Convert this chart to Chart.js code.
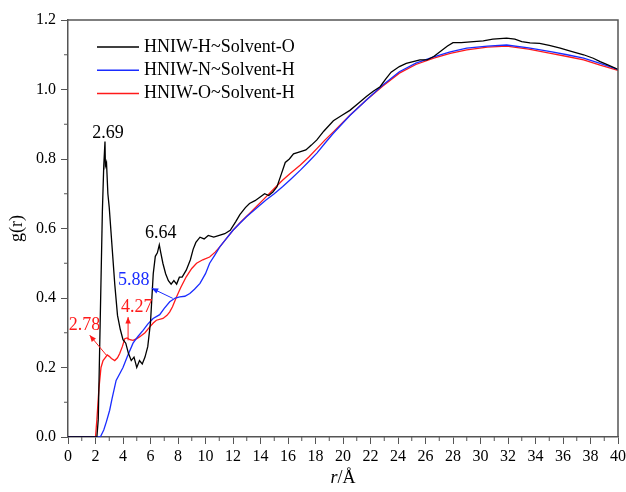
<!DOCTYPE html>
<html>
<head>
<meta charset="utf-8">
<script src="https://cdn.jsdelivr.net/npm/chart.js@4/dist/chart.umd.min.js"></script>
<style>
  body { margin: 0; background: #fff; }
  #wrap { width: 626px; height: 492px; }
</style>
</head>
<body>
<div id="wrap"><canvas id="rdfChart" width="626" height="492"></canvas></div>
<script>
// g(r) curves
const seriesNames = ['HNIW-H~Solvent-O', 'HNIW-N~Solvent-H', 'HNIW-O~Solvent-H'];
const seriesColors = ['#000000', '#1a2cff', '#ff1a1a'];

const rH_O = [0, 2.1, 2.2, 2.35, 2.5, 2.6, 2.69, 2.72, 2.8, 2.9, 3.0, 3.2, 3.4, 3.6, 3.8, 4.0, 4.2, 4.4, 4.6, 4.8, 5.0, 5.2, 5.4, 5.6, 5.8, 6.0, 6.1, 6.2, 6.35, 6.5, 6.64, 6.75, 6.9, 7.1, 7.3, 7.5, 7.7, 7.9, 8.1, 8.3, 8.6, 8.9, 9.1, 9.3, 9.6, 9.9, 10.2, 10.6, 11.0, 11.4, 11.8, 12.2, 12.5, 12.9, 13.2, 13.6, 13.95, 14.3, 14.6, 14.9, 15.2, 15.5, 15.8, 16.1, 16.4, 16.8, 17.3, 17.7, 18.1, 18.6, 19.3, 19.9, 20.5, 21.1, 21.7, 22.2, 22.7, 23.1, 23.5, 24.1, 24.6, 25.1, 25.6, 26.1, 26.6, 27.1, 27.6, 28.0, 28.6, 29.5, 30.2, 30.9, 31.9, 32.5, 33.0, 33.6, 34.3, 35.0, 35.8, 36.6, 37.5, 38.2, 38.7, 39.3, 40];
const gH_O = [0, 0, 0.05, 0.35, 0.65, 0.78, 0.85, 0.78, 0.79, 0.70, 0.66, 0.55, 0.44, 0.35, 0.31, 0.28, 0.27, 0.24, 0.22, 0.23, 0.20, 0.22, 0.21, 0.23, 0.26, 0.33, 0.40, 0.47, 0.52, 0.53, 0.553, 0.53, 0.50, 0.47, 0.45, 0.44, 0.45, 0.44, 0.46, 0.46, 0.48, 0.51, 0.54, 0.56, 0.575, 0.57, 0.58, 0.575, 0.58, 0.585, 0.595, 0.62, 0.64, 0.66, 0.672, 0.68, 0.69, 0.70, 0.695, 0.705, 0.72, 0.755, 0.79, 0.80, 0.815, 0.82, 0.826, 0.84, 0.855, 0.88, 0.91, 0.925, 0.94, 0.96, 0.98, 0.995, 1.008, 1.03, 1.05, 1.066, 1.075, 1.08, 1.085, 1.085, 1.095, 1.11, 1.125, 1.135, 1.135, 1.138, 1.14, 1.145, 1.148, 1.145, 1.138, 1.134, 1.133, 1.127, 1.119, 1.11, 1.10, 1.09, 1.08, 1.07, 1.058];

const rN_H = [0, 2.35, 2.6, 2.8, 3.03, 3.2, 3.5, 3.8, 4.0, 4.3, 4.73, 5.1, 5.46, 5.8, 6.19, 6.67, 7.0, 7.4, 7.8, 8.13, 8.5, 8.86, 9.2, 9.6, 10.0, 10.3, 10.7, 11.04, 11.5, 12, 12.5, 12.98, 13.7, 14.4, 15.0, 15.6, 16.2, 16.9, 17.5, 18.1, 18.7, 19.3, 20.5, 21.7, 22.9, 24.1, 25.3, 26.6, 27.8, 29.0, 30.5, 31.9, 33.5, 35.1, 36.3, 37.5, 38.7, 40];
const gN_H = [0, 0, 0.02, 0.045, 0.077, 0.11, 0.163, 0.185, 0.2, 0.23, 0.27, 0.29, 0.307, 0.325, 0.341, 0.352, 0.37, 0.389, 0.40, 0.403, 0.405, 0.413, 0.425, 0.442, 0.47, 0.50, 0.525, 0.547, 0.57, 0.595, 0.615, 0.634, 0.658, 0.682, 0.70, 0.72, 0.742, 0.768, 0.792, 0.817, 0.846, 0.874, 0.925, 0.97, 1.013, 1.051, 1.076, 1.094, 1.108, 1.119, 1.125, 1.128, 1.12, 1.109, 1.10, 1.09, 1.075, 1.058];

const rO_H = [0, 2.0, 2.1, 2.25, 2.4, 2.55, 2.7, 2.85, 3.0, 3.16, 3.4, 3.6, 3.76, 3.95, 4.13, 4.3, 4.5, 4.73, 5.0, 5.2, 5.6, 5.95, 6.2, 6.43, 6.91, 7.2, 7.4, 7.6, 7.89, 8.2, 8.6, 9.0, 9.35, 9.8, 10.3, 10.7, 11.04, 11.5, 12, 12.6, 13.2, 13.8, 14.4, 15.0, 15.6, 16.2, 16.9, 17.5, 18.1, 18.7, 19.3, 20.5, 21.7, 22.9, 24.1, 25.3, 26.6, 27.8, 29.0, 30.5, 31.9, 33.5, 35.1, 36.3, 37.5, 38.7, 40];
const gO_H = [0, 0, 0.05, 0.14, 0.2, 0.22, 0.228, 0.236, 0.232, 0.226, 0.22, 0.228, 0.24, 0.26, 0.283, 0.285, 0.28, 0.278, 0.283, 0.288, 0.30, 0.317, 0.328, 0.336, 0.341, 0.35, 0.36, 0.375, 0.403, 0.43, 0.461, 0.485, 0.50, 0.51, 0.518, 0.532, 0.547, 0.57, 0.595, 0.62, 0.643, 0.667, 0.691, 0.715, 0.739, 0.76, 0.783, 0.805, 0.83, 0.855, 0.878, 0.926, 0.97, 1.01, 1.047, 1.072, 1.09, 1.104, 1.114, 1.122, 1.125, 1.116, 1.104, 1.095, 1.085, 1.07, 1.055];

// peak labels: [text, r, g, color]
const peakLabels = [
    ['2.69', 2.9, 0.874, '#000000'],
    ['6.64', 6.75, 0.586, '#000000'],
    ['5.88', 4.78, 0.451, '#1a2cff'],
    ['4.27', 5.0, 0.374, '#ff1a1a'],
    ['2.78', 1.2, 0.322, '#ff1a1a']
];
// arrows: [r0, g0, r1, g1, color] (head at r1,g1)
const peakArrows = [
    [7.62, 0.399, 6.09, 0.428, '#1a2cff'],
    [4.37, 0.278, 4.37, 0.345, '#ff1a1a'],
    [2.8, 0.235, 1.58, 0.293, '#ff1a1a']
];

const serif = '"Liberation Serif", "Times New Roman", serif';
const axisColor = '#555';

function toPoints(xs, ys) {
    return xs.map((x, i) => ({ x: x, y: ys[i] }));
}

const extras = {
    id: 'extras',
    afterDraw(chart) {
        const { ctx, chartArea: a, scales: { x, y } } = chart;
        ctx.save();
        // frame top/right
        ctx.strokeStyle = axisColor;
        ctx.lineWidth = 1.5;
        ctx.beginPath();
        ctx.moveTo(a.left, a.top);
        ctx.lineTo(a.right, a.top);
        ctx.lineTo(a.right, a.bottom);
        ctx.stroke();

        // minor ticks
        ctx.lineWidth = 1;
        ctx.beginPath();
        for (let v = 1; v < 40; v += 2) {
            const px = x.getPixelForValue(v);
            ctx.moveTo(px, a.bottom);
            ctx.lineTo(px, a.bottom + 4);
        }
        for (let v = 0.1; v < 1.2; v += 0.2) {
            const py = y.getPixelForValue(v);
            ctx.moveTo(a.left, py);
            ctx.lineTo(a.left - 4, py);
        }
        ctx.stroke();

        // legend
        ctx.font = '18px ' + serif;
        ctx.textBaseline = 'middle';
        ctx.textAlign = 'left';
        seriesNames.forEach((name, i) => {
            const ly = 47 + i * 23.3;
            ctx.strokeStyle = seriesColors[i];
            ctx.lineWidth = 1.5;
            ctx.beginPath();
            ctx.moveTo(97, ly);
            ctx.lineTo(139, ly);
            ctx.stroke();
            ctx.fillStyle = '#000';
            ctx.fillText(name, 144, ly);
        });

        // arrows
        peakArrows.forEach(([r0, g0, r1, g1, col]) => {
            const x0 = x.getPixelForValue(r0), y0 = y.getPixelForValue(g0);
            const x1 = x.getPixelForValue(r1), y1 = y.getPixelForValue(g1);
            const ang = Math.atan2(y1 - y0, x1 - x0);
            ctx.strokeStyle = col;
            ctx.fillStyle = col;
            ctx.lineWidth = 1;
            ctx.beginPath();
            ctx.moveTo(x0, y0);
            ctx.lineTo(x1, y1);
            ctx.stroke();
            ctx.beginPath();
            ctx.moveTo(x1, y1);
            ctx.lineTo(x1 - 7 * Math.cos(ang - 0.4), y1 - 7 * Math.sin(ang - 0.4));
            ctx.lineTo(x1 - 7 * Math.cos(ang + 0.4), y1 - 7 * Math.sin(ang + 0.4));
            ctx.closePath();
            ctx.fill();
        });

        // peak labels
        ctx.font = '18px ' + serif;
        ctx.textAlign = 'center';
        peakLabels.forEach(([t, r, g, col]) => {
            ctx.fillStyle = col;
            ctx.fillText(t, x.getPixelForValue(r), y.getPixelForValue(g));
        });

        // x title with italic r
        ctx.fillStyle = '#000';
        ctx.textAlign = 'left';
        ctx.font = 'italic 18px ' + serif;
        const cx = (a.left + a.right) / 2;
        const wr = ctx.measureText('r').width;
        ctx.font = '18px ' + serif;
        const wrest = ctx.measureText('/Å').width;
        const sx = cx - (wr + wrest) / 2;
        ctx.font = 'italic 18px ' + serif;
        ctx.fillText('r', sx, 478);
        ctx.font = '18px ' + serif;
        ctx.fillText('/Å', sx + wr, 478);
        ctx.restore();
    }
};

new Chart(document.getElementById('rdfChart').getContext('2d'), {
    type: 'line',
    data: {
        datasets: [
            { label: seriesNames[0], data: toPoints(rH_O, gH_O), borderColor: seriesColors[0], borderWidth: 1.3 },
            { label: seriesNames[1], data: toPoints(rN_H, gN_H), borderColor: seriesColors[1], borderWidth: 1.3 },
            { label: seriesNames[2], data: toPoints(rO_H, gO_H), borderColor: seriesColors[2], borderWidth: 1.3 }
        ]
    },
    options: {
        responsive: false,
        animation: false,
        parsing: false,
        elements: { point: { radius: 0 }, line: { tension: 0 } },
        layout: { padding: { top: 20, right: 8, left: 0, bottom: 0 } },
        plugins: { legend: { display: false }, tooltip: { enabled: false } },
        scales: {
            x: {
                type: 'linear',
                min: 0,
                max: 40,
                afterFit: (s) => { s.height = 55; s.paddingRight = 0; s.paddingLeft = 0; },
                border: { color: axisColor, width: 1.5 },
                grid: { drawOnChartArea: false, tickLength: 7, color: axisColor },
                ticks: {
                    stepSize: 2,
                    padding: 3,
                    maxRotation: 0,
                    autoSkip: false,
                    color: '#000',
                    font: { family: serif, size: 16 }
                }
            },
            y: {
                min: 0,
                max: 1.2,
                afterFit: (s) => { s.width = 68; },
                border: { color: axisColor, width: 1.5 },
                grid: { drawOnChartArea: false, tickLength: 7, color: axisColor },
                title: { display: true, text: 'g(r)', color: '#000', font: { family: serif, size: 18 }, padding: { top: 6, bottom: 0 } },
                ticks: {
                    stepSize: 0.2,
                    padding: 5,
                    color: '#000',
                    font: { family: serif, size: 16 },
                    callback: (v) => v.toFixed(1)
                }
            }
        }
    },
    plugins: [extras]
});
</script>
</body>
</html>
